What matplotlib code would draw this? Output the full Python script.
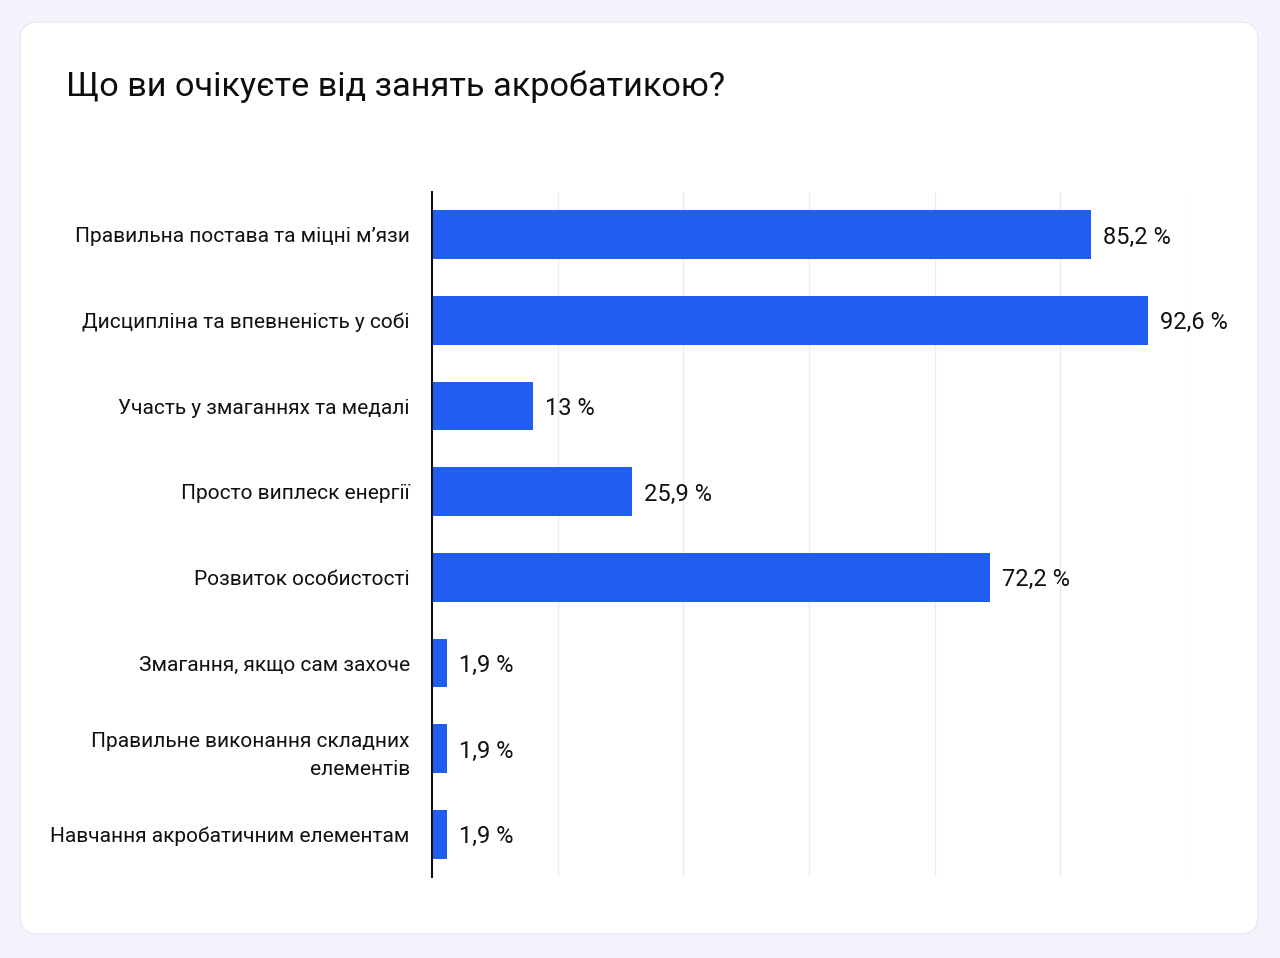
import matplotlib
matplotlib.use("Agg")
from matplotlib import pyplot as plt
from matplotlib.patches import FancyBboxPatch
from matplotlib.transforms import IdentityTransform

# дані
labels = [
    "Правильна постава та міцні м’язи",
    "Дисципліна та впевненість у собі",
    "Участь у змаганнях та медалі",
    "Просто виплеск енергії",
    "Розвиток особистості",
    "Змагання, якщо сам захоче",
    "Правильне виконання складних\nелементів",
    "Навчання акробатичним елементам",
]
values = [85.2, 92.6, 13, 25.9, 72.2, 1.9, 1.9, 1.9]
value_text = ["85,2 %", "92,6 %", "13 %", "25,9 %", "72,2 %", "1,9 %", "1,9 %", "1,9 %"]
title = "Що ви очікуєте від занять акробатикою?"

plt.rcParams['font.family'] = ['Roboto', 'DejaVu Sans']

W, H = 1280, 958
fig = plt.figure(figsize=(W / 100, H / 100), dpi=100)
fig.patch.set_facecolor('#f3f4fb')

# біла картка
card = FancyBboxPatch((20, H - 934), 1238, 912, boxstyle="round,pad=0,rounding_size=18",
                      transform=IdentityTransform(), facecolor='white',
                      edgecolor='#e8e9f0', linewidth=1, zorder=-10)
fig.patches.append(card)

fig.text(66 / W, 1 - 87 / H, title, fontsize=24.7, color='#0d0d0d', va='center', ha='left')

ax = fig.add_axes([432 / W, 1 - 877 / H, 754 / W, 685 / H])
ax.set_facecolor('none')
y = range(len(values))
ax.barh(y, values, height=0.57, color='#1f5ef1', zorder=3)
ax.set_xlim(0, 97.5)
ax.set_ylim(len(values) - 0.5, -0.5)

for i, (v, t) in enumerate(zip(values, value_text)):
    ax.text(v + 1.55, i, t, va='center_baseline', ha='left', fontsize=17, color='#111111')

ax.set_yticks(list(y))
ax.set_yticklabels(labels, fontsize=15, color='#111111', linespacing=1.65,
                   va='center_baseline')
ax.tick_params(axis='y', length=0, pad=16)
ax.set_xticks([97.5 / 6 * k for k in range(1, 7)])
ax.tick_params(axis='x', length=0, labelbottom=False)
ax.grid(axis='x', color='#ececec', linewidth=1, zorder=0)
for s in ['top', 'right', 'bottom']:
    ax.spines[s].set_visible(False)
ax.spines['left'].set_color('#111111')
ax.spines['left'].set_linewidth(1.5)
ax.spines['left'].set_zorder(4)

plt.savefig('out.png', dpi=100, facecolor=fig.get_facecolor())
